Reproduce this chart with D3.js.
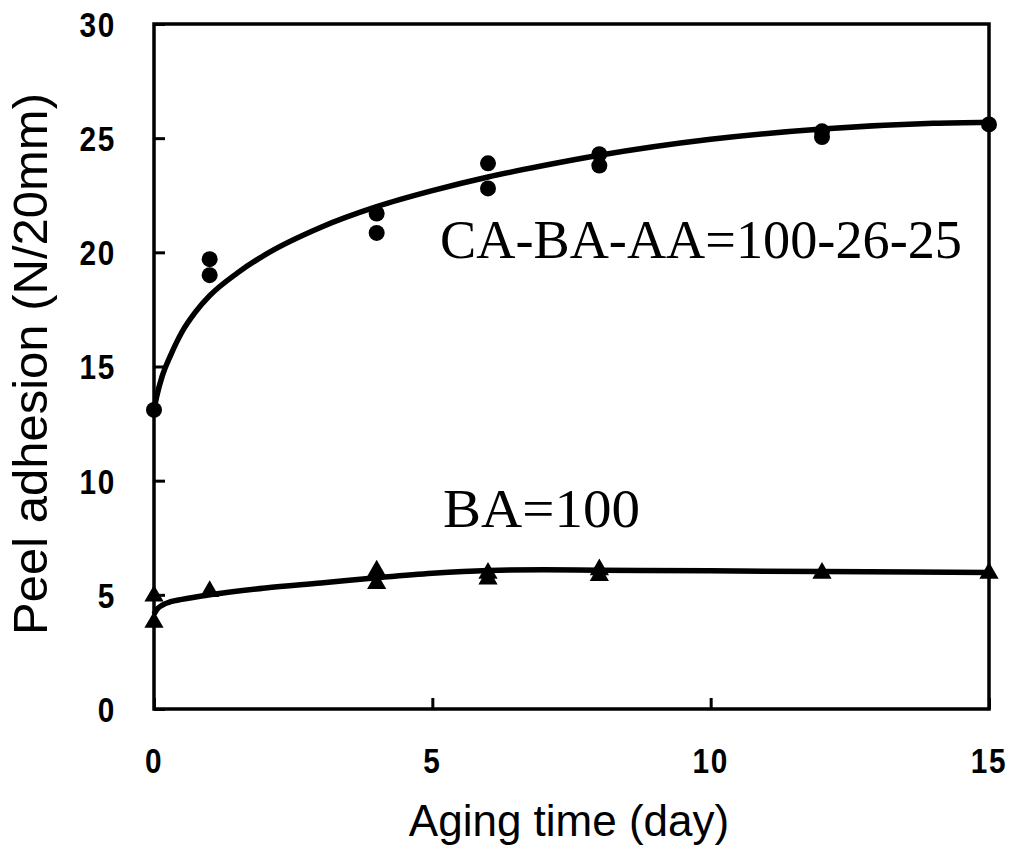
<!DOCTYPE html>
<html>
<head>
<meta charset="utf-8">
<script src="https://cdn.jsdelivr.net/npm/d3@7"></script>
<style>
  html, body { margin: 0; padding: 0; background: #fff; }
  svg { display: block; }
</style>
</head>
<body>
<svg id="chart" width="1010" height="846"></svg>
<script>
// Measured peel adhesion (N/20mm) versus aging time (day)
const caDays   = [0, 1, 1, 4, 4, 6, 6, 8, 8, 12, 12, 15];
const caValues = [13.1, 19.7, 19.0, 21.7, 20.85, 23.9, 22.8, 24.3, 23.8, 25.3, 25.05, 25.6];

const baDays   = [0, 0, 1, 4, 4, 6, 6, 8, 8, 12, 15];
const baValues = [4.95, 3.8, 5.15, 6.05, 5.5, 5.95, 5.7, 6.1, 5.85, 5.95, 5.95];

// Fitted trend curves
const caFitDays   = [0, 0.05, 0.15, 0.3, 0.5, 0.75, 1, 1.5, 2, 3, 4, 5, 6, 7, 8, 10, 12, 14, 15];
const caFitValues = [13.1, 13.7, 14.6, 15.5, 16.5, 17.4, 18.1, 19.1, 19.9, 21.1, 22.0, 22.7, 23.3, 23.8, 24.25, 24.95, 25.4, 25.65, 25.7];

const baFitDays   = [0, 0.05, 0.15, 0.3, 0.5, 1, 2, 3, 4, 5, 6, 7, 8, 10, 12, 15];
const baFitValues = [4.15, 4.35, 4.55, 4.7, 4.8, 5.0, 5.3, 5.52, 5.75, 5.95, 6.07, 6.1, 6.08, 6.05, 6.02, 5.98];

const xTicks = [0, 5, 10, 15];
const yTicks = [0, 5, 10, 15, 20, 25, 30];

const svg = d3.select("#chart");
const plotLeft = 154, plotRight = 989, plotTop = 24, plotBottom = 709;

const x = d3.scaleLinear().domain([0, 15]).range([plotLeft, plotRight]);
const y = d3.scaleLinear().domain([0, 30]).range([plotBottom, plotTop]);

const ink = "#000";

// Frame around the plot area
svg.append("rect")
  .attr("x", plotLeft).attr("y", plotTop)
  .attr("width", plotRight - plotLeft).attr("height", plotBottom - plotTop)
  .attr("fill", "none").attr("stroke", ink).attr("stroke-width", 3.5);

// Inward ticks on the left and bottom axes
const yAxis = d3.axisLeft(y).tickValues(yTicks).tickSize(-11).tickFormat("");
svg.append("g").attr("transform", `translate(${plotLeft},0)`).call(yAxis)
  .call(g => g.select(".domain").remove())
  .selectAll("line").attr("stroke", ink).attr("stroke-width", 3);

const xAxis = d3.axisBottom(x).tickValues(xTicks).tickSize(-11).tickFormat("");
svg.append("g").attr("transform", `translate(0,${plotBottom})`).call(xAxis)
  .call(g => g.select(".domain").remove())
  .selectAll("line").attr("stroke", ink).attr("stroke-width", 3);

// Tick labels: tall, narrow bold numerals
const sans = "'Liberation Sans', Arial, sans-serif";
svg.append("g").selectAll("text").data(yTicks).join("text")
  .attr("transform", d => `translate(116,${y(d) + 1}) scale(0.85,1)`)
  .attr("text-anchor", "end").attr("dominant-baseline", "central")
  .attr("font-family", sans).attr("font-weight", "bold").attr("font-size", 35)
  .attr("letter-spacing", 2)
  .text(d => d);

svg.append("g").selectAll("text").data(xTicks).join("text")
  .attr("transform", d => `translate(${x(d)},761) scale(0.85,1)`)
  .attr("text-anchor", "middle").attr("dominant-baseline", "central")
  .attr("font-family", sans).attr("font-weight", "bold").attr("font-size", 35)
  .attr("letter-spacing", 2)
  .text(d => d);

// Axis titles
svg.append("text")
  .attr("transform", `translate(47,364) rotate(-90)`)
  .attr("text-anchor", "middle")
  .attr("font-family", sans).attr("font-size", 49)
  .text("Peel adhesion (N/20mm)");

svg.append("text")
  .attr("x", 569).attr("y", 836)
  .attr("text-anchor", "middle")
  .attr("font-family", sans).attr("font-size", 44)
  .text("Aging time (day)");

// Fitted curves
const line = d3.line().x(d => x(d[0])).y(d => y(d[1])).curve(d3.curveMonotoneX);
svg.append("path")
  .datum(d3.zip(caFitDays, caFitValues))
  .attr("d", line).attr("fill", "none").attr("stroke", ink).attr("stroke-width", 5.5);
svg.append("path")
  .datum(d3.zip(baFitDays, baFitValues))
  .attr("d", line).attr("fill", "none").attr("stroke", ink).attr("stroke-width", 5.5);

// Markers: circles for CA-BA-AA, triangles for BA
svg.append("g").selectAll("circle").data(d3.zip(caDays, caValues)).join("circle")
  .attr("cx", d => x(d[0])).attr("cy", d => y(d[1])).attr("r", 8).attr("fill", ink);

const tri = d3.symbol().type(d3.symbolTriangle).size(160);
svg.append("g").selectAll("path").data(d3.zip(baDays, baValues)).join("path")
  .attr("transform", d => `translate(${x(d[0])},${y(d[1])})`)
  .attr("d", tri).attr("fill", ink);

// Series labels
const serif = "'Liberation Serif', 'Times New Roman', serif";
svg.append("text")
  .attr("x", 440).attr("y", 258)
  .attr("font-family", serif).attr("font-size", 55)
  .attr("textLength", 522).attr("lengthAdjust", "spacingAndGlyphs")
  .text("CA-BA-AA=100-26-25");
svg.append("text")
  .attr("x", 443).attr("y", 527)
  .attr("font-family", serif).attr("font-size", 55)
  .attr("textLength", 197).attr("lengthAdjust", "spacingAndGlyphs")
  .text("BA=100");
</script>
</body>
</html>
